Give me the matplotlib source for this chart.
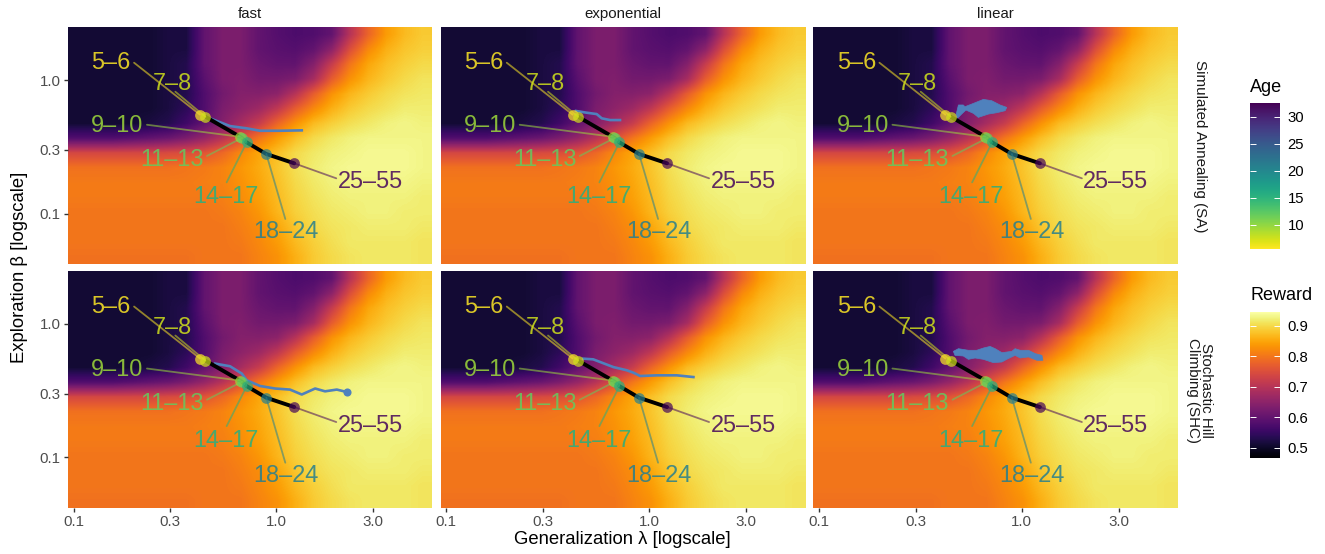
import numpy as np
import matplotlib
matplotlib.use('Agg')
import matplotlib.pyplot as plt
from matplotlib.cm import ScalarMappable
from matplotlib.colors import Normalize

plt.rcParams['font.family'] = ['Liberation Sans', 'DejaVu Sans']

# reward, coarse reading of the map (top row = high beta, left = low lambda)
reward = [
    [.51, .51, .51, .51, .51, .52, .52, .60, .63, .63, .60, .585, .575, .58, .60, .70, .78, .84, .87, .885],
    [.51, .51, .51, .51, .51, .52, .52, .60, .63, .63, .60, .59, .585, .60, .65, .75, .82, .86, .88, .89],
    [.51, .51, .51, .51, .51, .52, .53, .60, .63, .63, .61, .60, .60, .64, .72, .80, .85, .875, .89, .90],
    [.51, .51, .51, .51, .51, .52, .53, .59, .63, .635, .62, .62, .63, .68, .77, .83, .865, .885, .90, .91],
    [.51, .51, .51, .51, .51, .52, .53, .58, .62, .64, .64, .65, .70, .77, .83, .865, .885, .90, .91, .915],
    [.51, .51, .51, .51, .51, .52, .54, .58, .63, .65, .67, .71, .77, .82, .86, .885, .90, .91, .92, .92],
    [.51, .51, .51, .51, .52, .53, .56, .60, .64, .68, .72, .78, .83, .87, .89, .905, .915, .925, .93, .925],
    [.58, .58, .58, .59, .60, .61, .63, .66, .70, .75, .80, .84, .875, .90, .915, .925, .93, .93, .93, .93],
    [.74, .74, .74, .74, .74, .745, .75, .76, .785, .82, .85, .875, .90, .915, .925, .93, .935, .935, .935, .93],
    [.795, .795, .795, .795, .795, .795, .80, .805, .815, .835, .855, .88, .905, .92, .93, .935, .935, .935, .935, .93],
    [.805, .805, .805, .805, .805, .805, .805, .81, .815, .83, .85, .875, .90, .915, .925, .93, .93, .93, .93, .925],
    [.805, .805, .805, .805, .805, .805, .805, .805, .81, .825, .845, .87, .895, .91, .92, .925, .925, .925, .925, .92],
    [.80, .80, .80, .80, .80, .80, .80, .80, .805, .815, .835, .865, .89, .905, .915, .92, .925, .925, .92, .92],
    [.80, .80, .80, .80, .80, .80, .80, .80, .80, .81, .825, .85, .88, .90, .91, .915, .92, .92, .92, .915],
    [.80, .80, .80, .80, .80, .80, .80, .80, .80, .805, .82, .84, .87, .89, .905, .915, .915, .915, .915, .91],
    [.795, .795, .795, .795, .795, .795, .795, .80, .80, .80, .815, .83, .86, .885, .90, .91, .915, .915, .915, .91],
]

age_labels = ['5–6', '7–8', '9–10', '11–13', '14–17', '18–24', '25–55']
age_values = [5.5, 7.5, 9.5, 12, 15.5, 21, 32]
# log10 of lambda and beta for each age group
age_lam = [-.376, -.350, -.179, -.169, -.146, -.049, .089]
age_beta = [-.260, -.275, -.425, -.434, -.467, -.554, -.624]

# trajectories, log10 lambda / log10 beta
sa_fast_x = [-.319, -.228, -.146, -.080, .019, .126]
sa_fast_y = [-.292, -.345, -.362, -.380, -.380, -.377]
sa_exp_x = [-.360, -.307, -.258, -.233, -.192, -.143]
sa_exp_y = [-.232, -.245, -.255, -.287, -.300, -.300]
shc_fast_x = [-.302, -.228, -.170, -.146, -.080, -.006, .068, .126, .192, .241, .299, .348]
shc_fast_y = [-.298, -.318, -.373, -.423, -.466, -.485, -.493, -.530, -.485, -.506, -.493, -.511]
shc_exp_x = [-.324, -.275, -.241, -.176, -.110, -.077, -.044, .039, .137, .219]
shc_exp_y = [-.261, -.266, -.286, -.324, -.348, -.366, -.391, -.386, -.386, -.399]

# the linear runs wander a lot, so they are drawn as filled outlines
sa_lin_x = [-.324, -.312, -.288, -.280, -.238, -.189, -.148, -.107, -.074, -.082, -.123, -.164, -.214, -.238, -.275, -.296, -.317]
sa_lin_y = [-.262, -.187, -.187, -.200, -.175, -.145, -.155, -.187, -.205, -.230, -.245, -.255, -.280, -.250, -.225, -.255, -.287]
shc_lin_x = [-.337, -.312, -.263, -.222, -.189, -.156, -.131, -.098, -.049, -.033, -.008, .033, .066, .099, .104, .074, .033, -.008, -.033, -.074, -.098, -.140, -.189, -.230, -.263, -.288, -.329]
shc_lin_y = [-.206, -.186, -.198, -.198, -.181, -.169, -.186, -.216, -.206, -.186, -.198, -.198, -.223, -.236, -.273, -.273, -.248, -.256, -.236, -.266, -.286, -.291, -.266, -.256, -.266, -.241, -.236]

col_titles = ['fast', 'exponential', 'linear']
row_titles = ['Simulated Annealing (SA)', 'Stochastic Hill\nClimbing (SHC)']
x_ticks = [0.1, 0.3, 1.0, 3.0]
y_ticks = [0.1, 0.3, 1.0]

W, H = 1325, 554
BLUE = '#4f81bd'
XLIM = (-1.028, 0.769)
YLIM = (-1.378, 0.397)

# label centre and leader end, pixels from the dot
label_off = [(-89, 52.5), (-33, 33.5), (-122.5, 11.5), (-70, -22), (-21, -54), (20, -78), (76, -18)]
leader_off = [(-66, 52), (-30, 25), (-93, 12), (-35, -18), (-20, -40), (19, -65), (42, -15)]


def px_axes(left, top, right, bottom):
    return fig.add_axes([left / W, 1 - bottom / H, (right - left) / W, (bottom - top) / H])


fig = plt.figure(figsize=(W / 100, H / 100), dpi=100)
lefts = [(68, 432), (440.5, 805), (813, 1178)]
tops = [(27, 264), (271, 507.5)]
norm_r = Normalize(0.467, 0.945)
norm_a = Normalize(5.5, 32.5)
age_cmap = plt.get_cmap('viridis_r')

for r, (top, bottom) in enumerate(tops):
    for c, (left, right) in enumerate(lefts):
        ax = px_axes(left, top, right, bottom)
        ax.imshow(reward, cmap='inferno', norm=norm_r, aspect='auto', interpolation='bilinear',
                  extent=[XLIM[0], XLIM[1], YLIM[0], YLIM[1]], origin='upper', zorder=1)

        if (r, c) == (0, 0):
            ax.plot(sa_fast_x, sa_fast_y, color=BLUE, lw=1.9, zorder=2)
        elif (r, c) == (0, 1):
            ax.plot(sa_exp_x, sa_exp_y, color=BLUE, lw=1.9, zorder=2)
        elif (r, c) == (0, 2):
            ax.fill(sa_lin_x, sa_lin_y, color=BLUE, lw=0.5, zorder=2)
        elif (r, c) == (1, 0):
            ax.plot(shc_fast_x, shc_fast_y, color=BLUE, lw=1.9, zorder=2)
            ax.scatter(shc_fast_x[-1], shc_fast_y[-1], s=34, color=BLUE, lw=0, zorder=2)
        elif (r, c) == (1, 1):
            ax.plot(shc_exp_x, shc_exp_y, color=BLUE, lw=1.9, zorder=2)
        else:
            ax.fill(shc_lin_x, shc_lin_y, color=BLUE, lw=0.5, zorder=2)

        ax.plot(age_lam[1:], age_beta[1:], color='black', lw=2.8, zorder=3, solid_capstyle='round')

        for i, lab in enumerate(age_labels):
            col = age_cmap(norm_a(age_values[i]))
            ax.annotate('', xy=(age_lam[i], age_beta[i]), xycoords='data',
                        xytext=leader_off[i], textcoords='offset pixels',
                        arrowprops=dict(arrowstyle='-', color=col, alpha=0.55, lw=1.3,
                                        shrinkA=0, shrinkB=0), zorder=4)
            ax.scatter(age_lam[i], age_beta[i], s=60, color=col, alpha=0.7, lw=0, zorder=5)
            ax.annotate(lab, xy=(age_lam[i], age_beta[i]), xycoords='data',
                        xytext=label_off[i], textcoords='offset pixels',
                        ha='center', va='center', fontsize=16.9, color=col, alpha=0.85, zorder=6)

        ax.set_xlim(XLIM)
        ax.set_ylim(YLIM)
        for s in ax.spines.values():
            s.set_visible(False)
        ax.set_xticks(np.log10(x_ticks))
        ax.set_yticks(np.log10(y_ticks))
        ax.set_xticklabels([f'{v:.1f}' for v in x_ticks])
        ax.set_yticklabels([f'{v:.1f}' for v in y_ticks])
        ax.tick_params(axis='both', length=3.2, width=1.0, color='#333333', labelcolor='#4d4d4d',
                       labelsize=10.9, pad=2)
        if r == 0:
            ax.tick_params(axis='x', bottom=False, labelbottom=False)
            fig.text((left + right) / 2 / W, 1 - 14 / H, col_titles[c], ha='center', va='center',
                     fontsize=10.8, color='#1a1a1a')
        if c > 0:
            ax.tick_params(axis='y', left=False, labelleft=False)

fig.text(1200 / W, 1 - 146 / H, row_titles[0], rotation=-90, ha='center', va='center', fontsize=10.9, color='#1a1a1a')
fig.text(1199.5 / W, 1 - 390 / H, row_titles[1], rotation=-90, ha='center', va='center', fontsize=10.9,
         color='#1a1a1a', linespacing=0.95)
fig.text(622 / W, 1 - 540 / H, 'Generalization λ [logscale]', ha='center', va='center', fontsize=13.3)
fig.text(20 / W, 1 - 267 / H, 'Exploration β [logscale]', rotation=90, ha='center', va='center', fontsize=13.3)

# legends
cax = px_axes(1250, 103, 1280, 249)
cb = fig.colorbar(ScalarMappable(norm=norm_a, cmap=age_cmap), cax=cax, ticks=[10, 15, 20, 25, 30])
cax2 = px_axes(1250, 312, 1280, 458)
cb2 = fig.colorbar(ScalarMappable(norm=norm_r, cmap='inferno'), cax=cax2, ticks=[.5, .6, .7, .8, .9])
cb2.ax.set_yticklabels(['0.5', '0.6', '0.7', '0.8', '0.9'])
for bar in (cb, cb2):
    bar.outline.set_visible(False)
    bar.ax.tick_params(axis='y', direction='in', left=True, right=True, length=4.2, width=0.7,
                       color='white', labelsize=10.7, labelcolor='black', pad=5.5)
fig.text(1250 / W, 1 - 87 / H, 'Age', ha='left', va='center', fontsize=13)
fig.text(1250.5 / W, 1 - 295 / H, 'Reward', ha='left', va='center', fontsize=13)

fig.savefig('out.png', dpi=100)
